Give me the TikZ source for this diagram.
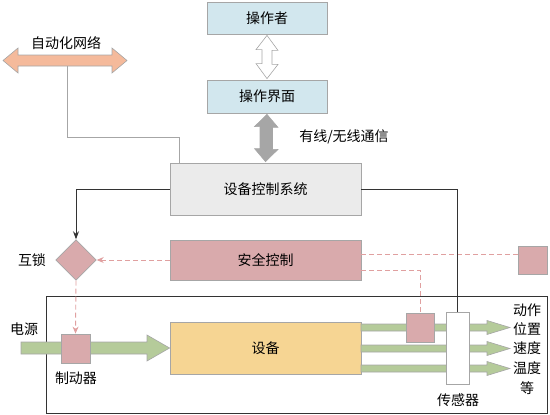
\documentclass[tikz,border=0pt]{standalone}
\usepackage{fontspec}
\newfontfamily\cjk{Noto Sans CJK SC}
\usetikzlibrary{arrows.meta,calc}
\definecolor{blueF}{HTML}{D2E7EE}
\definecolor{edgeC}{HTML}{A6A6A6}
\definecolor{grayF}{HTML}{EBEBEB}
\definecolor{pinkF}{HTML}{D9AAAC}
\definecolor{yellowF}{HTML}{F6D593}
\definecolor{greenF}{HTML}{B5CB9A}
\definecolor{orangeF}{HTML}{F5BA9B}
\definecolor{dashC}{HTML}{E0A0A0}
\definecolor{lineC}{HTML}{333333}
\tikzset{
  txt/.style={font=\cjk\fontsize{14}{17}\selectfont, inner sep=0pt},
  box/.style={txt, draw=edgeC, line width=0.8pt, inner sep=0pt, minimum width=#1},
  box/.default=191pt,
  blockarrow/.style={draw=edgeC, line width=0.6pt},
  dashlink/.style={draw=dashC, dashed, dash pattern=on 5pt off 3pt, line width=0.9pt},
  dashtip/.style={-{Stealth[length=7pt,width=6pt]}},
  blacklink/.style={draw=lineC, line width=0.9pt},
}
\begin{document}
\begin{tikzpicture}[x=1pt,y=-1pt]
\useasboundingbox (0,0) rectangle (550,415);
% frame
\node[draw=lineC, line width=0.8pt, minimum width=501pt, minimum height=117pt, inner sep=0pt] (frame) at (296.5,354.5) {};
% top boxes
\node[box=120pt, fill=blueF, minimum height=32pt] (op) at (267,18) {操作者};
\node[box=120pt, fill=blueF, minimum height=33pt] (ui) at (267,96.5) {操作界面};
\node[box, fill=grayF, minimum height=52pt] (ctrl) at (265.5,189) {设备控制系统};
\node[box, fill=pinkF, minimum height=40pt] (safe) at (265.5,260) {安全控制};
\node[box, fill=yellowF, minimum height=52pt] (dev) at (265.5,348) {设备};
% white double arrow
\filldraw[blockarrow, fill=white] ($(op.south)+(0,1)$) -- ++(11,15) -- ++(-6,0) -- ++(0,14) -- ++(6,0) -- ($(ui.north)+(0,-1)$) -- ++(-11,-15) -- ++(6,0) -- ++(0,-14) -- ++(-6,0) -- cycle;
% gray double arrow
\filldraw[blockarrow, fill=edgeC] ($(ui.south)+(0,1)$) -- ++(11,13) -- ++(-5.5,0) -- ++(0,22) -- ++(5.5,0) -- ($(ctrl.north)+(0,-1)$) -- ++(-11,-13) -- ++(5.5,0) -- ++(0,-22) -- ++(-5.5,0) -- cycle;
\node[txt] (comm) at (344,137) {有线/无线通信};
% automation network arrow
\coordinate (netL) at (3,60.5);
\coordinate (netR) at (127,60.5);
\filldraw[blockarrow, fill=orangeF] (netL) -- ++(15,-12.5) -- ++(0,7) -- ($(netR)+(-15,-5.5)$) -- ++(0,-7) -- (netR) -- ++(-15,12.5) -- ++(0,-7) -- ($(netL)+(15,5.5)$) -- ++(0,7) -- cycle;
\node[txt] (netlbl) at (66,43) {自动化网络};
\coordinate (netTap) at (67,66);
\draw[draw=edgeC, line width=0.8pt] (netTap) |- (179,137) -- (ctrl.north -| 179,0);
% interlock diamond
\node[draw=edgeC, line width=0.8pt, fill=pinkF, minimum width=28.5pt, minimum height=28.5pt, rotate=45, inner sep=0pt] (lock) at (76,260) {};
\node[txt] (locklbl) at (32,260) {互锁};
\draw[blacklink, -{Stealth[length=8pt,width=6pt]}] (ctrl.west |- 0,189) -| (lock.north east);
% power arrow
\filldraw[blockarrow, fill=greenF] (21,342) -- (147,342) -- (147,335) -- (dev.west) -- (147,361) -- (147,354) -- (21,354) -- cycle;
\node[txt] (power) at (24,329) {电源};
\node[draw=edgeC, line width=0.8pt, fill=pinkF, minimum width=29pt, minimum height=29pt, inner sep=0pt] (brake) at (75.5,348.5) {};
\node[txt] (brakelbl) at (76,378) {制动器};
% dashed links
\draw[dashlink, dashtip] (safe.west) -- (lock.south east);
\draw[dashlink, dashtip] (lock.south west) -- (brake.north);
% output arrows
\foreach \yy in {327.5,348.5,368.5}{
  \filldraw[blockarrow, fill=greenF] (361,\yy-3.5) -- (487,\yy-3.5) -- (487,\yy-7) -- (510,\yy) -- (487,\yy+7) -- (487,\yy+3.5) -- (361,\yy+3.5) -- cycle;
}
\node[draw=edgeC, line width=0.8pt, fill=pinkF, minimum width=28pt, minimum height=29pt, inner sep=0pt] (sq1) at (420,327.5) {};
\node[draw=edgeC, line width=0.8pt, fill=white, minimum width=23pt, minimum height=72pt, inner sep=0pt] (sensor) at (457.5,348) {};
\node[txt] (sensorlbl) at (458,400) {传感器};
\node[draw=edgeC, line width=0.8pt, fill=pinkF, minimum width=29pt, minimum height=28pt, inner sep=0pt] (sq2) at (532.5,260) {};
\draw[dashlink] (safe.east |- 0,254) -- (sq2.west |- 0,254);
\draw[dashlink] (safe.east |- 0,270) -| (sq1.north);
\draw[blacklink] (ctrl.east |- 0,189) -| (sensor.north);
% right labels
\node[txt] (l1) at (527,310) {动作};
\node[txt] (l2) at (527,329) {位置};
\node[txt] (l3) at (527,348) {速度};
\node[txt] (l4) at (527,368) {温度};
\node[txt] (l5) at (527,388) {等};
\end{tikzpicture}
\end{document}
